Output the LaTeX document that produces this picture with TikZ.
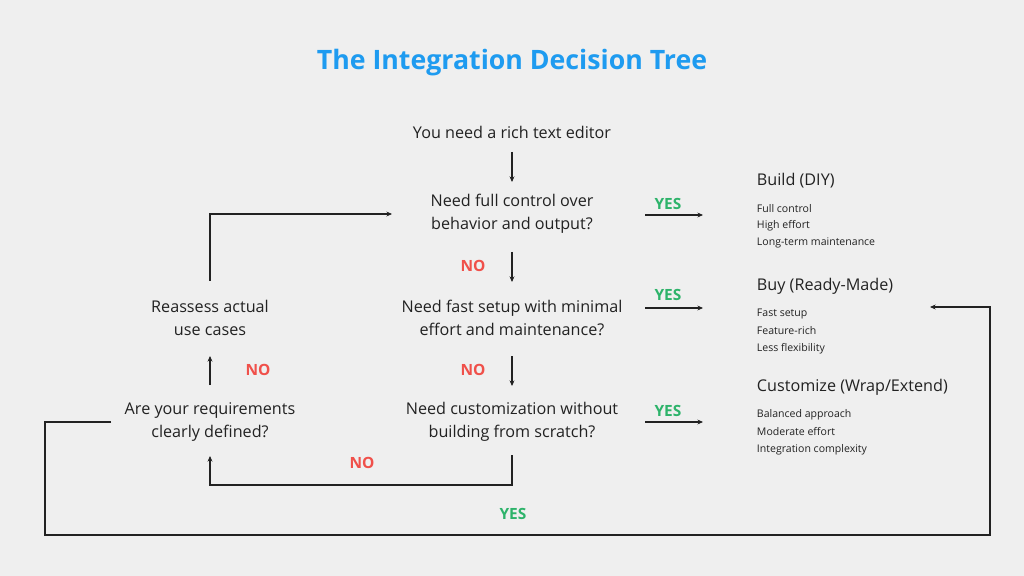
\documentclass[tikz,border=0pt]{standalone}
\usepackage{fontspec}
\setmainfont{Open Sans}
\usetikzlibrary{arrows.meta}
\definecolor{bgc}{HTML}{EFEFEF}
\definecolor{titleblue}{HTML}{1E9BF0}
\definecolor{nored}{HTML}{F0504A}
\definecolor{yesgreen}{HTML}{2DB36A}
\definecolor{ink}{HTML}{222222}
\begin{document}
\begin{tikzpicture}[
		x=0.025cm, y=-0.025cm,
		question/.style={text=ink, align=center, font=\fontsize{11.5}{16}\selectfont},
		head/.style={text=ink, anchor=west, font=\fontsize{11.5}{14}\selectfont},
		item/.style={text=ink, anchor=west, font=\fontsize{7.5}{9}\selectfont},
		no/.style={text=nored, font=\fontsize{11}{13}\selectfont\bfseries},
		yes/.style={text=yesgreen, font=\fontsize{11}{13}\selectfont\bfseries},
		arrow/.style={-{Stealth[length=4pt,width=3.5pt]}, line width=0.8pt, draw=ink}
	]
		\fill[bgc] (0,0) rectangle (1024,576);
		% Title
		\node[text=titleblue, font=\fontsize{19}{22}\selectfont\bfseries] (title) at (512,63) {The Integration Decision Tree};
		
		% Questions
		\node[question] (start) at (512,132) {You need a rich text editor};
		\node[question] (q1) at (512,214) {Need full control over\\behavior and output?};
		\node[question] (q2) at (512,318) {Need fast setup with minimal\\effort and maintenance?};
		\node[question] (q3) at (512,422) {Need customization without\\building from scratch?};
		\node[question] (reas) at (210,318) {Reassess actual\\use cases};
		\node[question] (req) at (210,422) {Are your requirements\\clearly defined?};
		
		% Outcomes
		\node[head] (build) at (752,181) {Build (DIY)};
		\node[item] at (752,209) {Full control};
		\node[item] at (752,226) {High effort};
		\node[item] at (752,243) {Long-term maintenance};
		\node[head] (buy) at (752,286) {Buy (Ready-Made)};
		\node[item] at (752,314) {Fast setup};
		\node[item] at (752,331) {Feature-rich};
		\node[item] at (752,349) {Less flexibility};
		\node[head] (cust) at (752,387) {Customize (Wrap/Extend)};
		\node[item] at (752,415) {Balanced approach};
		\node[item] at (752,432) {Moderate effort};
		\node[item] at (752,450) {Integration complexity};
		
		% Coordinates
		\coordinate (y1a) at (645,215); \coordinate (y1b) at (703,215);
		\coordinate (y2a) at (645,308); \coordinate (y2b) at (703,308);
		\coordinate (y3a) at (645,422); \coordinate (y3b) at (703,422);
		\coordinate (buyin) at (930,307);
		
		% Arrows
		\draw[arrow] (512,152) -- (512,182);
		\draw[arrow] (512,252) -- (512,282);
		\draw[arrow] (512,356) -- (512,386);
		\draw[arrow] (512,455) -- (512,485) -- (210,485) -- (210,456);
		\draw[arrow] (210,385) -- (210,356);
		\draw[arrow] (210,281) -- (210,214) -- (392,214);
		\draw[arrow] (y1a) -- (y1b);
		\draw[arrow] (y2a) -- (y2b);
		\draw[arrow] (y3a) -- (y3b);
		\draw[arrow] (111,422) -- (45,422) -- (45,535) -- (990,535) -- (990,307) -- (buyin);
		
		% Labels
		\node[no] at (473,266) {NO};
		\node[no] at (473,370) {NO};
		\node[no] at (362,463) {NO};
		\node[no] at (258,370) {NO};
		\node[yes] at (668,204) {YES};
		\node[yes] at (668,295) {YES};
		\node[yes] at (668,411) {YES};
		\node[yes] at (513,514) {YES};
	\end{tikzpicture}
\end{document}
